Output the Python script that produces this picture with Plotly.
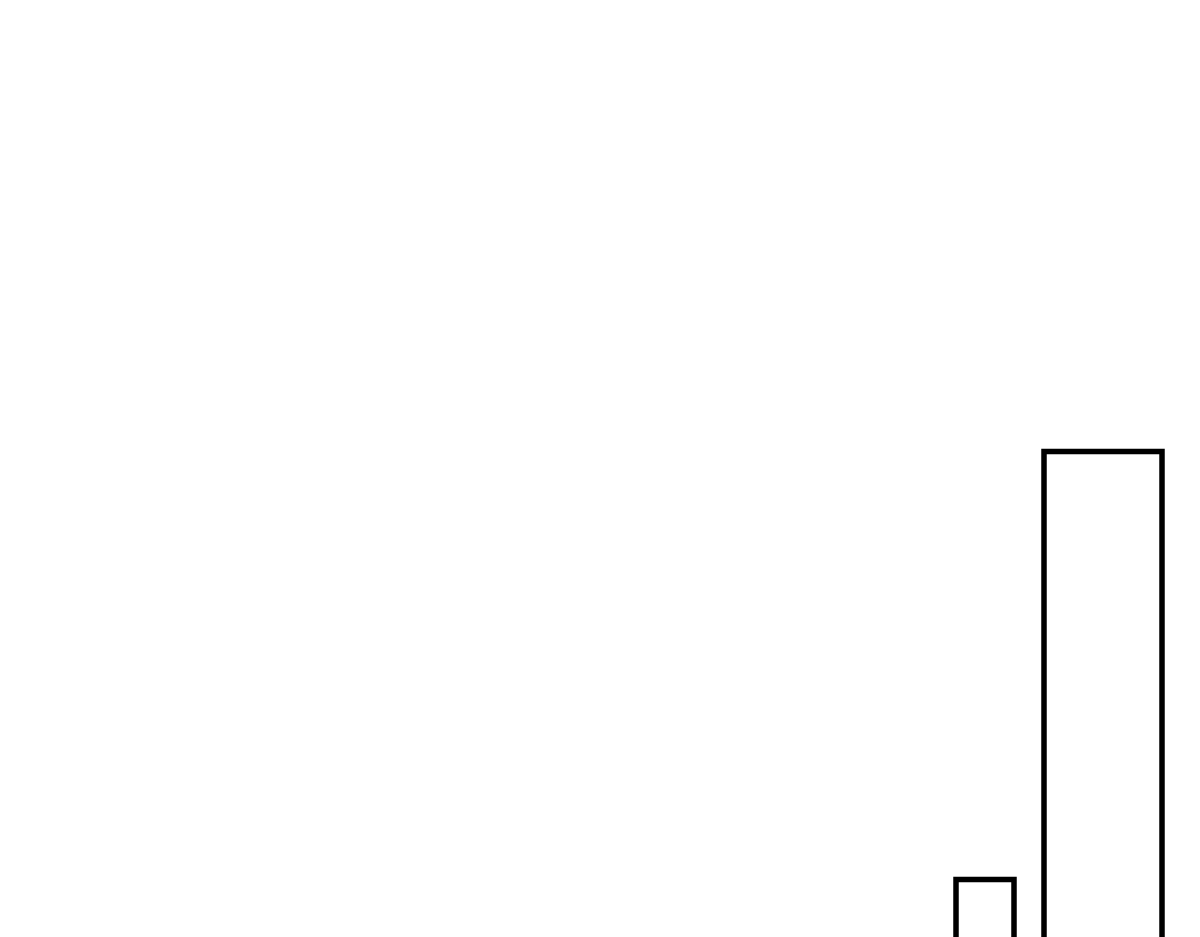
import plotly.graph_objects as go

# Data
categories = ["A", "B"]
values = [67.5, 495.5]

# Layout constants (pixel-based axis mapping)
x_centers = [985, 1103]
bar_widths = [58, 118]

fig = go.Figure(
    go.Bar(
        x=x_centers,
        y=values,
        width=bar_widths,
        hovertext=categories,
        marker=dict(color="white", line=dict(color="black", width=5.5)),
        showlegend=False,
    )
)

fig.update_layout(
    width=1200,
    height=937,
    margin=dict(l=0, r=0, t=0, b=0),
    paper_bgcolor="white",
    plot_bgcolor="white",
    xaxis=dict(range=[8, 1208], visible=False),
    yaxis=dict(range=[2, 939], visible=False),
)

fig.write_html("out.html")
